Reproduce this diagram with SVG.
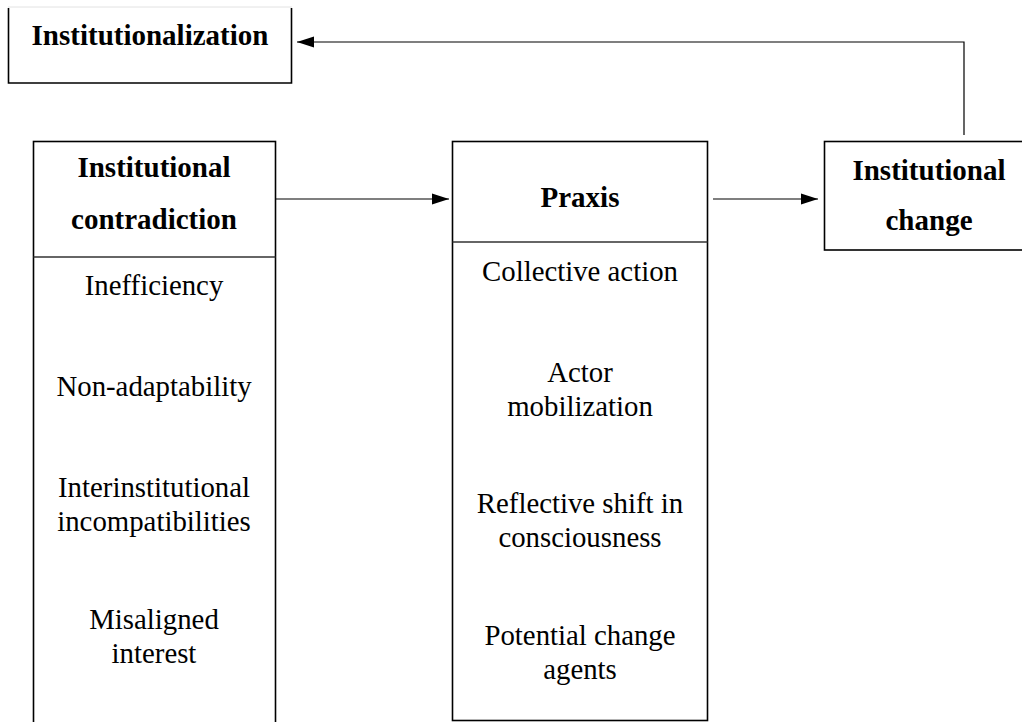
<svg xmlns="http://www.w3.org/2000/svg" width="1022" height="722" viewBox="0 0 1022 722">
<defs>
<marker id="arr" markerWidth="17" markerHeight="12" refX="17" refY="6" orient="auto" markerUnits="userSpaceOnUse">
<path d="M0,0.5 L17,6 L0,11.5 Z" fill="#000"/>
</marker>
<style>
.box{fill:#fff;stroke:#000;stroke-width:1.6}
.div{stroke:#333;stroke-width:1.3}
.con{fill:none;stroke:#000;stroke-width:1.2}
.h{font-family:"Liberation Serif","Times New Roman",serif;font-weight:bold;font-size:29px;text-anchor:middle;fill:#000}
.t{font-family:"Liberation Serif","Times New Roman",serif;font-size:28.8px;text-anchor:middle;fill:#000}
</style>
</defs>
<rect width="1022" height="722" fill="#fff"/>
<g id="institutionalization">
<line x1="8" y1="7" x2="292" y2="7" stroke="#e2e2e2" stroke-width="1"/>
<path d="M8.5,8 V83 H291.5 V8" fill="#fff" stroke="#000" stroke-width="1.6"/>
<text class="h" x="150" y="45">Institutionalization</text>
</g>
<g id="contradiction">
<rect class="box" x="33.5" y="141.5" width="242" height="600"/>
<line class="div" x1="33.5" y1="257" x2="275.5" y2="257"/>
<text class="h" x="154" y="177">Institutional</text>
<text class="h" x="154" y="229">contradiction</text>
<text class="t" x="154" y="295">Inefficiency</text>
<text class="t" x="154" y="396">Non-adaptability</text>
<text class="t" x="154" y="497">Interinstitutional</text>
<text class="t" x="154" y="531">incompatibilities</text>
<text class="t" x="154" y="629">Misaligned</text>
<text class="t" x="154" y="663">interest</text>
</g>
<g id="praxis">
<rect class="box" x="452.5" y="141.5" width="255" height="579"/>
<line class="div" x1="452.5" y1="242" x2="707.5" y2="242"/>
<text class="h" x="580" y="207">Praxis</text>
<text class="t" x="580" y="281">Collective action</text>
<text class="t" x="580" y="382">Actor</text>
<text class="t" x="580" y="416">mobilization</text>
<text class="t" x="580" y="513">Reflective shift in</text>
<text class="t" x="580" y="547">consciousness</text>
<text class="t" x="580" y="645">Potential change</text>
<text class="t" x="580" y="679">agents</text>
</g>
<g id="change">
<rect class="box" x="824.5" y="141.5" width="220" height="108.5"/>
<text class="h" x="929" y="180">Institutional</text>
<text class="h" x="929" y="230">change</text>
</g>
<g id="connectors">
<line class="con" x1="276" y1="199" x2="449" y2="199" marker-end="url(#arr)"/>
<line class="con" x1="713" y1="199" x2="818" y2="199" marker-end="url(#arr)"/>
<polyline class="con" points="964,135 964,42 297,42" marker-end="url(#arr)"/>
</g>
</svg>
